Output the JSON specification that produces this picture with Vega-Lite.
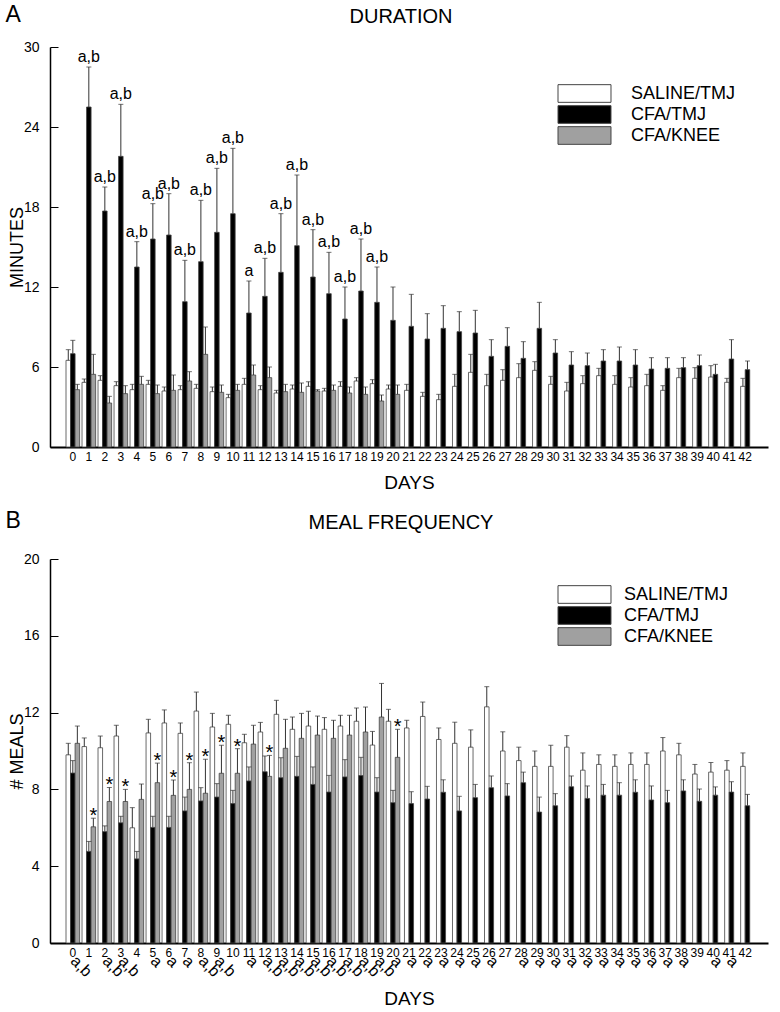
{
"$schema": "https://vega.github.io/schema/vega-lite/v6.json",
"padding": {"left": 5, "top": 4, "right": 4, "bottom": 2},
"background": "white",
"config": {
  "font": "Liberation Sans",
  "view": {"stroke": null},
  "axis": {"domainColor": "#000", "labelColor": "#000", "titleColor": "#000", "titleFontWeight": "normal", "grid": false, "tickColor": "#000", "labelFont": "Liberation Sans", "titleFont": "Liberation Sans"},
  "title": {"fontWeight": "normal", "font": "Liberation Sans", "color": "#000"},
  "legend": {"labelFont": "Liberation Sans", "labelColor": "#000"}
},
"datasets": {
"A1": [
{"day":0,"g":"SALINE/TMJ","m":6.5,"hi":7.3},{"day":0,"g":"CFA/TMJ","m":7.0,"hi":8.0},{"day":0,"g":"CFA/KNEE","m":4.3,"hi":4.7},
{"day":1,"g":"SALINE/TMJ","m":4.85,"hi":5.1},{"day":1,"g":"CFA/TMJ","m":25.5,"hi":28.5,"note":"a,b"},{"day":1,"g":"CFA/KNEE","m":5.45,"hi":6.95},
{"day":2,"g":"SALINE/TMJ","m":5.0,"hi":5.35},{"day":2,"g":"CFA/TMJ","m":17.7,"hi":19.5,"note":"a,b"},{"day":2,"g":"CFA/KNEE","m":3.3,"hi":3.8},
{"day":3,"g":"SALINE/TMJ","m":4.6,"hi":4.9},{"day":3,"g":"CFA/TMJ","m":21.8,"hi":25.7,"note":"a,b"},{"day":3,"g":"CFA/KNEE","m":4.0,"hi":4.6},
{"day":4,"g":"SALINE/TMJ","m":4.3,"hi":4.7},{"day":4,"g":"CFA/TMJ","m":13.5,"hi":15.4,"note":"a,b"},{"day":4,"g":"CFA/KNEE","m":4.7,"hi":5.3},
{"day":5,"g":"SALINE/TMJ","m":4.7,"hi":5.0},{"day":5,"g":"CFA/TMJ","m":15.6,"hi":18.25,"note":"a,b"},{"day":5,"g":"CFA/KNEE","m":4.0,"hi":4.65},
{"day":6,"g":"SALINE/TMJ","m":4.2,"hi":4.5},{"day":6,"g":"CFA/TMJ","m":15.9,"hi":19.0,"note":"a,b"},{"day":6,"g":"CFA/KNEE","m":4.25,"hi":5.4},
{"day":7,"g":"SALINE/TMJ","m":4.3,"hi":4.6},{"day":7,"g":"CFA/TMJ","m":10.9,"hi":14.0,"note":"a,b"},{"day":7,"g":"CFA/KNEE","m":4.95,"hi":5.65},
{"day":8,"g":"SALINE/TMJ","m":4.4,"hi":4.7},{"day":8,"g":"CFA/TMJ","m":13.9,"hi":18.5,"note":"a,b"},{"day":8,"g":"CFA/KNEE","m":6.95,"hi":9.0},
{"day":9,"g":"SALINE/TMJ","m":4.15,"hi":4.5},{"day":9,"g":"CFA/TMJ","m":16.1,"hi":20.9,"note":"a,b"},{"day":9,"g":"CFA/KNEE","m":4.1,"hi":4.65},
{"day":10,"g":"SALINE/TMJ","m":3.7,"hi":3.95},{"day":10,"g":"CFA/TMJ","m":17.5,"hi":22.4,"note":"a,b"},{"day":10,"g":"CFA/KNEE","m":4.25,"hi":4.7},
{"day":11,"g":"SALINE/TMJ","m":4.7,"hi":5.15},{"day":11,"g":"CFA/TMJ","m":10.05,"hi":12.45,"note":"a"},{"day":11,"g":"CFA/KNEE","m":5.4,"hi":6.15},
{"day":12,"g":"SALINE/TMJ","m":4.3,"hi":4.6},{"day":12,"g":"CFA/TMJ","m":11.3,"hi":14.15,"note":"a,b"},{"day":12,"g":"CFA/KNEE","m":5.2,"hi":6.0},
{"day":13,"g":"SALINE/TMJ","m":4.05,"hi":4.25},{"day":13,"g":"CFA/TMJ","m":13.1,"hi":17.5,"note":"a,b"},{"day":13,"g":"CFA/KNEE","m":4.15,"hi":4.7},
{"day":14,"g":"SALINE/TMJ","m":4.35,"hi":4.65},{"day":14,"g":"CFA/TMJ","m":15.1,"hi":20.4,"note":"a,b"},{"day":14,"g":"CFA/KNEE","m":4.1,"hi":4.8},
{"day":15,"g":"SALINE/TMJ","m":4.55,"hi":4.9},{"day":15,"g":"CFA/TMJ","m":12.75,"hi":16.3,"note":"a,b"},{"day":15,"g":"CFA/KNEE","m":4.2,"hi":4.3},
{"day":16,"g":"SALINE/TMJ","m":4.2,"hi":4.4},{"day":16,"g":"CFA/TMJ","m":11.5,"hi":14.6,"note":"a,b"},{"day":16,"g":"CFA/KNEE","m":4.25,"hi":4.65},
{"day":17,"g":"SALINE/TMJ","m":4.55,"hi":4.9},{"day":17,"g":"CFA/TMJ","m":9.6,"hi":12.0,"note":"a,b"},{"day":17,"g":"CFA/KNEE","m":4.05,"hi":4.5},
{"day":18,"g":"SALINE/TMJ","m":4.95,"hi":5.2},{"day":18,"g":"CFA/TMJ","m":11.7,"hi":15.6,"note":"a,b"},{"day":18,"g":"CFA/KNEE","m":3.95,"hi":4.5},
{"day":19,"g":"SALINE/TMJ","m":4.75,"hi":5.05},{"day":19,"g":"CFA/TMJ","m":10.85,"hi":13.5,"note":"a,b"},{"day":19,"g":"CFA/KNEE","m":3.45,"hi":3.9},
{"day":20,"g":"SALINE/TMJ","m":4.35,"hi":4.65},{"day":20,"g":"CFA/TMJ","m":9.5,"hi":12.0},{"day":20,"g":"CFA/KNEE","m":3.95,"hi":4.65}
],
"A2": [
{"day":21,"g":"SALINE/TMJ","m":4.25,"hi":4.7},{"day":21,"g":"CFA/TMJ","m":9.05,"hi":11.45},
{"day":22,"g":"SALINE/TMJ","m":3.8,"hi":4.1},{"day":22,"g":"CFA/TMJ","m":8.1,"hi":10.0},
{"day":23,"g":"SALINE/TMJ","m":3.55,"hi":3.95},{"day":23,"g":"CFA/TMJ","m":8.9,"hi":10.6},
{"day":24,"g":"SALINE/TMJ","m":4.55,"hi":5.45},{"day":24,"g":"CFA/TMJ","m":8.65,"hi":10.15},
{"day":25,"g":"SALINE/TMJ","m":5.6,"hi":6.95},{"day":25,"g":"CFA/TMJ","m":8.55,"hi":10.25},
{"day":26,"g":"SALINE/TMJ","m":4.6,"hi":5.45},{"day":26,"g":"CFA/TMJ","m":6.8,"hi":8.05},
{"day":27,"g":"SALINE/TMJ","m":5.0,"hi":5.8},{"day":27,"g":"CFA/TMJ","m":7.55,"hi":8.95},
{"day":28,"g":"SALINE/TMJ","m":5.2,"hi":6.25},{"day":28,"g":"CFA/TMJ","m":6.65,"hi":7.9},
{"day":29,"g":"SALINE/TMJ","m":5.75,"hi":6.4},{"day":29,"g":"CFA/TMJ","m":8.9,"hi":10.85},
{"day":30,"g":"SALINE/TMJ","m":4.7,"hi":5.3},{"day":30,"g":"CFA/TMJ","m":7.05,"hi":8.05},
{"day":31,"g":"SALINE/TMJ","m":4.2,"hi":4.85},{"day":31,"g":"CFA/TMJ","m":6.15,"hi":7.15},
{"day":32,"g":"SALINE/TMJ","m":4.75,"hi":5.35},{"day":32,"g":"CFA/TMJ","m":6.1,"hi":7.05},
{"day":33,"g":"SALINE/TMJ","m":5.35,"hi":5.9},{"day":33,"g":"CFA/TMJ","m":6.45,"hi":7.3},
{"day":34,"g":"SALINE/TMJ","m":4.7,"hi":5.35},{"day":34,"g":"CFA/TMJ","m":6.45,"hi":7.5},
{"day":35,"g":"SALINE/TMJ","m":4.5,"hi":5.2},{"day":35,"g":"CFA/TMJ","m":6.15,"hi":7.3},
{"day":36,"g":"SALINE/TMJ","m":4.6,"hi":5.45},{"day":36,"g":"CFA/TMJ","m":5.85,"hi":6.7},
{"day":37,"g":"SALINE/TMJ","m":4.25,"hi":4.6},{"day":37,"g":"CFA/TMJ","m":5.9,"hi":6.7},
{"day":38,"g":"SALINE/TMJ","m":5.2,"hi":5.9},{"day":38,"g":"CFA/TMJ","m":5.95,"hi":6.7},
{"day":39,"g":"SALINE/TMJ","m":5.15,"hi":5.95},{"day":39,"g":"CFA/TMJ","m":6.1,"hi":6.9},
{"day":40,"g":"SALINE/TMJ","m":5.25,"hi":6.1},{"day":40,"g":"CFA/TMJ","m":5.45,"hi":6.2},
{"day":41,"g":"SALINE/TMJ","m":4.85,"hi":5.15},{"day":41,"g":"CFA/TMJ","m":6.6,"hi":8.05},
{"day":42,"g":"SALINE/TMJ","m":4.55,"hi":5.15},{"day":42,"g":"CFA/TMJ","m":5.8,"hi":6.45}
],
"B1": [
{"day":0,"g":"SALINE/TMJ","m":9.8,"hi":10.4},{"day":0,"g":"CFA/TMJ","m":8.85,"hi":9.5},{"day":0,"g":"CFA/KNEE","m":10.4,"hi":11.3},
{"day":1,"g":"SALINE/TMJ","m":10.23,"hi":10.68},{"day":1,"g":"CFA/TMJ","m":4.77,"hi":5.29},{"day":1,"g":"CFA/KNEE","m":6.05,"hi":6.5,"note":"*"},
{"day":2,"g":"SALINE/TMJ","m":10.17,"hi":10.78},{"day":2,"g":"CFA/TMJ","m":5.8,"hi":6.1},{"day":2,"g":"CFA/KNEE","m":7.37,"hi":8.1,"note":"*"},
{"day":3,"g":"SALINE/TMJ","m":10.78,"hi":11.34},{"day":3,"g":"CFA/TMJ","m":6.26,"hi":6.6},{"day":3,"g":"CFA/KNEE","m":7.37,"hi":8.0,"note":"*"},
{"day":4,"g":"SALINE/TMJ","m":6.0,"hi":7.05},{"day":4,"g":"CFA/TMJ","m":4.38,"hi":4.77},{"day":4,"g":"CFA/KNEE","m":7.48,"hi":8.28},
{"day":5,"g":"SALINE/TMJ","m":10.94,"hi":11.65},{"day":5,"g":"CFA/TMJ","m":6.02,"hi":6.6},{"day":5,"g":"CFA/KNEE","m":8.35,"hi":9.37,"note":"*"},
{"day":6,"g":"SALINE/TMJ","m":11.46,"hi":12.14},{"day":6,"g":"CFA/TMJ","m":6.02,"hi":6.6},{"day":6,"g":"CFA/KNEE","m":7.69,"hi":8.49,"note":"*"},
{"day":7,"g":"SALINE/TMJ","m":10.92,"hi":11.46},{"day":7,"g":"CFA/TMJ","m":6.88,"hi":7.6},{"day":7,"g":"CFA/KNEE","m":8.0,"hi":9.39,"note":"*"},
{"day":8,"g":"SALINE/TMJ","m":12.08,"hi":13.07},{"day":8,"g":"CFA/TMJ","m":7.4,"hi":8.09},{"day":8,"g":"CFA/KNEE","m":7.8,"hi":9.57,"note":"*"},
{"day":9,"g":"SALINE/TMJ","m":11.25,"hi":11.96},{"day":9,"g":"CFA/TMJ","m":7.6,"hi":8.3},{"day":9,"g":"CFA/KNEE","m":8.84,"hi":10.3,"note":"*"},
{"day":10,"g":"SALINE/TMJ","m":11.39,"hi":11.86},{"day":10,"g":"CFA/TMJ","m":7.26,"hi":7.95},{"day":10,"g":"CFA/KNEE","m":8.84,"hi":10.12,"note":"*"},
{"day":11,"g":"SALINE/TMJ","m":10.43,"hi":10.87},{"day":11,"g":"CFA/TMJ","m":8.44,"hi":9.17},{"day":11,"g":"CFA/KNEE","m":10.36,"hi":11.34},
{"day":12,"g":"SALINE/TMJ","m":10.99,"hi":11.49},{"day":12,"g":"CFA/TMJ","m":8.92,"hi":9.74},{"day":12,"g":"CFA/KNEE","m":8.68,"hi":9.77,"note":"*"},
{"day":13,"g":"SALINE/TMJ","m":11.91,"hi":12.64},{"day":13,"g":"CFA/TMJ","m":8.61,"hi":9.65},{"day":13,"g":"CFA/KNEE","m":10.14,"hi":11.65},
{"day":14,"g":"SALINE/TMJ","m":11.13,"hi":11.77},{"day":14,"g":"CFA/TMJ","m":8.68,"hi":9.72},{"day":14,"g":"CFA/KNEE","m":10.66,"hi":11.96},
{"day":15,"g":"SALINE/TMJ","m":11.3,"hi":12.07},{"day":15,"g":"CFA/TMJ","m":8.26,"hi":9.17},{"day":15,"g":"CFA/KNEE","m":10.83,"hi":11.82},
{"day":16,"g":"SALINE/TMJ","m":11.13,"hi":11.74},{"day":16,"g":"CFA/TMJ","m":7.86,"hi":8.73},{"day":16,"g":"CFA/KNEE","m":10.66,"hi":11.6},
{"day":17,"g":"SALINE/TMJ","m":11.3,"hi":11.86},{"day":17,"g":"CFA/TMJ","m":8.65,"hi":9.55},{"day":17,"g":"CFA/KNEE","m":10.83,"hi":11.86},
{"day":18,"g":"SALINE/TMJ","m":11.55,"hi":12.24},{"day":18,"g":"CFA/TMJ","m":8.72,"hi":9.67},{"day":18,"g":"CFA/KNEE","m":10.99,"hi":12.29},
{"day":19,"g":"SALINE/TMJ","m":10.31,"hi":11.02},{"day":19,"g":"CFA/TMJ","m":7.86,"hi":8.61},{"day":19,"g":"CFA/KNEE","m":11.77,"hi":13.52},
{"day":20,"g":"SALINE/TMJ","m":11.55,"hi":12.17},{"day":20,"g":"CFA/TMJ","m":7.31,"hi":7.95},{"day":20,"g":"CFA/KNEE","m":9.67,"hi":11.13,"note":"*"}
],
"B2": [
{"day":21,"g":"SALINE/TMJ","m":11.2,"hi":11.6},{"day":21,"g":"CFA/TMJ","m":7.26,"hi":7.88},
{"day":22,"g":"SALINE/TMJ","m":11.8,"hi":12.55},{"day":22,"g":"CFA/TMJ","m":7.5,"hi":8.16},
{"day":23,"g":"SALINE/TMJ","m":10.6,"hi":11.2},{"day":23,"g":"CFA/TMJ","m":7.85,"hi":8.5},
{"day":24,"g":"SALINE/TMJ","m":10.4,"hi":11.5},{"day":24,"g":"CFA/TMJ","m":6.88,"hi":7.64},
{"day":25,"g":"SALINE/TMJ","m":10.2,"hi":11.1},{"day":25,"g":"CFA/TMJ","m":7.57,"hi":8.26},
{"day":26,"g":"SALINE/TMJ","m":12.3,"hi":13.35},{"day":26,"g":"CFA/TMJ","m":8.09,"hi":8.7},
{"day":27,"g":"SALINE/TMJ","m":10.0,"hi":11.0},{"day":27,"g":"CFA/TMJ","m":7.66,"hi":8.3},
{"day":28,"g":"SALINE/TMJ","m":9.5,"hi":10.2},{"day":28,"g":"CFA/TMJ","m":8.35,"hi":8.9},
{"day":29,"g":"SALINE/TMJ","m":9.2,"hi":10.0},{"day":29,"g":"CFA/TMJ","m":6.82,"hi":7.6},
{"day":30,"g":"SALINE/TMJ","m":9.2,"hi":10.3},{"day":30,"g":"CFA/TMJ","m":7.15,"hi":7.78},
{"day":31,"g":"SALINE/TMJ","m":10.2,"hi":10.8},{"day":31,"g":"CFA/TMJ","m":8.14,"hi":8.7},
{"day":32,"g":"SALINE/TMJ","m":9.0,"hi":9.9},{"day":32,"g":"CFA/TMJ","m":7.53,"hi":8.18},
{"day":33,"g":"SALINE/TMJ","m":9.3,"hi":9.8},{"day":33,"g":"CFA/TMJ","m":7.7,"hi":8.26},
{"day":34,"g":"SALINE/TMJ","m":9.2,"hi":9.8},{"day":34,"g":"CFA/TMJ","m":7.7,"hi":8.35},
{"day":35,"g":"SALINE/TMJ","m":9.3,"hi":9.9},{"day":35,"g":"CFA/TMJ","m":7.85,"hi":8.5},
{"day":36,"g":"SALINE/TMJ","m":9.3,"hi":9.9},{"day":36,"g":"CFA/TMJ","m":7.45,"hi":8.18},
{"day":37,"g":"SALINE/TMJ","m":10.0,"hi":10.7},{"day":37,"g":"CFA/TMJ","m":7.31,"hi":7.95},
{"day":38,"g":"SALINE/TMJ","m":9.8,"hi":10.4},{"day":38,"g":"CFA/TMJ","m":7.92,"hi":8.5},
{"day":39,"g":"SALINE/TMJ","m":8.8,"hi":9.3},{"day":39,"g":"CFA/TMJ","m":7.38,"hi":8.02},
{"day":40,"g":"SALINE/TMJ","m":8.9,"hi":9.4},{"day":40,"g":"CFA/TMJ","m":7.7,"hi":8.13},
{"day":41,"g":"SALINE/TMJ","m":9.0,"hi":9.5},{"day":41,"g":"CFA/TMJ","m":7.86,"hi":8.4},
{"day":42,"g":"SALINE/TMJ","m":9.2,"hi":9.9},{"day":42,"g":"CFA/TMJ","m":7.15,"hi":7.74}
],
"SB": [
{"day":1,"lab":"a,b"},{"day":3,"lab":"a,b"},{"day":4,"lab":"a,b"},{"day":6,"lab":"a"},{"day":7,"lab":"a"},{"day":8,"lab":"a"},
{"day":9,"lab":"a,b"},{"day":10,"lab":"a,b"},{"day":12,"lab":"a"},
{"day":13,"lab":"a,b"},{"day":14,"lab":"a,b"},{"day":15,"lab":"a,b"},{"day":16,"lab":"a,b"},{"day":17,"lab":"a,b"},{"day":18,"lab":"a,b"},{"day":19,"lab":"a,b"},{"day":20,"lab":"a,b"},
{"day":21,"lab":"a"},{"day":22,"lab":"a"},{"day":23,"lab":"a"},{"day":24,"lab":"a"},{"day":25,"lab":"a"},{"day":26,"lab":"a"},{"day":27,"lab":"a"},
{"day":29,"lab":"a"},{"day":30,"lab":"a"},{"day":31,"lab":"a"},{"day":32,"lab":"a"},{"day":33,"lab":"a"},{"day":34,"lab":"a"},{"day":35,"lab":"a"},{"day":36,"lab":"a"},{"day":37,"lab":"a"},{"day":38,"lab":"a"},{"day":39,"lab":"a"},
{"day":41,"lab":"a"},{"day":42,"lab":"a"}
]
},
"vconcat": [
{
 "title": {"text": "A", "anchor": "start", "frame": "bounds", "fontSize": 23, "offset": 0, "dy": 20, "dx": -3},
 "resolve": {"scale": {"xOffset": "independent"}},
 "vconcat": [
 {
  "width": 718, "height": 400,
  "title": {"text": "DURATION", "fontSize": 20, "frame": "group", "dx": -8, "offset": 13},
  "resolve": {"scale": {"xOffset": "independent"}},
  "layer": [
   {
    "data": {"name": "A1"},
    "encoding": {
     "x": {"field": "day", "type": "ordinal", "scale": {"domain": [0,1,2,3,4,5,6,7,8,9,10,11,12,13,14,15,16,17,18,19,20,21,22,23,24,25,26,27,28,29,30,31,32,33,34,35,36,37,38,39,40,41,42], "paddingInner": 0.15, "paddingOuter": 1},
           "axis": {"title": "DAYS", "labelAngle": 0, "ticks": false, "labelPadding": 4, "labelFontSize": 12, "titleFontSize": 19, "titlePadding": 11, "domainWidth": 2}},
     "xOffset": {"field": "g", "type": "nominal", "scale": {"domain": ["SALINE/TMJ","CFA/TMJ","CFA/KNEE"], "paddingInner": 0, "paddingOuter": 0}},
     "y": {"field": "m", "type": "quantitative", "scale": {"domain": [0,30], "nice": false},
           "axis": {"values": [0,6,12,18,24,30], "title": "MINUTES", "titleFontSize": 18, "labelFontSize": 14, "tickSize": -8, "labelPadding": 19, "titlePadding": -3, "domainWidth": 1.5}}
    },
    "layer": [
     {"mark": {"type": "bar", "stroke": "#444", "strokeWidth": 0.8},
      "encoding": {"color": {"field": "g", "type": "nominal", "scale": {"domain": ["SALINE/TMJ","CFA/TMJ","CFA/KNEE"], "range": ["#ffffff","#000000","#a0a0a0"]},
        "legend": {"orient": "none", "legendX": 525, "legendY": 37, "title": null, "symbolType": "M-3,-1H3V1H-3Z", "symbolSize": 312, "rowPadding": -10, "labelFontSize": 18, "labelOffset": 37, "symbolStrokeColor": "#444", "symbolStrokeWidth": 1, "padding": 0}}}},
     {"mark": {"type": "rule", "color": "#333", "strokeWidth": 1}, "encoding": {"y2": {"field": "hi"}}},
     {"mark": {"type": "tick", "color": "#333", "thickness": 1, "size": 5}, "encoding": {"y": {"field": "hi", "type": "quantitative"}}},
     {"transform": [{"filter": "datum.note"}], "mark": {"type": "text", "fontSize": 16, "baseline": "alphabetic", "dy": -5, "color": "#000"},
      "encoding": {"y": {"field": "hi", "type": "quantitative"}, "text": {"field": "note"}}}
    ]
   },
   {
    "data": {"name": "A2"},
    "encoding": {
     "x": {"field": "day", "type": "ordinal", "scale": {"domain": [0,1,2,3,4,5,6,7,8,9,10,11,12,13,14,15,16,17,18,19,20,21,22,23,24,25,26,27,28,29,30,31,32,33,34,35,36,37,38,39,40,41,42], "paddingInner": 0.15, "paddingOuter": 1},
           "axis": {"title": "DAYS", "labelAngle": 0, "ticks": false, "labelPadding": 4, "labelFontSize": 12, "titleFontSize": 19, "titlePadding": 11, "domainWidth": 2}},
     "xOffset": {"field": "g", "type": "nominal", "scale": {"domain": ["SALINE/TMJ","CFA/TMJ"], "paddingInner": 0, "paddingOuter": 0.5}},
     "y": {"field": "m", "type": "quantitative", "scale": {"domain": [0,30], "nice": false},
           "axis": {"values": [0,6,12,18,24,30], "title": "MINUTES", "titleFontSize": 18, "labelFontSize": 14, "tickSize": -8, "labelPadding": 19, "titlePadding": -3, "domainWidth": 1.5}}
    },
    "layer": [
     {"mark": {"type": "bar", "stroke": "#444", "strokeWidth": 0.8},
      "encoding": {"color": {"field": "g", "type": "nominal", "scale": {"domain": ["SALINE/TMJ","CFA/TMJ","CFA/KNEE"], "range": ["#ffffff","#000000","#a0a0a0"]},
        "legend": {"orient": "none", "legendX": 525, "legendY": 37, "title": null, "symbolType": "M-3,-1H3V1H-3Z", "symbolSize": 312, "rowPadding": -10, "labelFontSize": 18, "labelOffset": 37, "symbolStrokeColor": "#444", "symbolStrokeWidth": 1, "padding": 0}}}},
     {"mark": {"type": "rule", "color": "#333", "strokeWidth": 1}, "encoding": {"y2": {"field": "hi"}}},
     {"mark": {"type": "tick", "color": "#333", "thickness": 1, "size": 5}, "encoding": {"y": {"field": "hi", "type": "quantitative"}}}
    ]
   }
  ]
 }
 ]
},
{
 "title": {"text": "B", "anchor": "start", "frame": "bounds", "fontSize": 23, "offset": 0, "dy": 20, "dx": -3},
 "resolve": {"scale": {"xOffset": "independent"}},
 "vconcat": [
 {
  "width": 718, "height": 384,
  "title": {"text": "MEAL FREQUENCY", "fontSize": 20, "frame": "group", "dx": -8, "offset": 19},
  "resolve": {"scale": {"xOffset": "independent"}},
  "layer": [
   {
    "data": {"name": "B1"},
    "encoding": {
     "x": {"field": "day", "type": "ordinal", "scale": {"domain": [0,1,2,3,4,5,6,7,8,9,10,11,12,13,14,15,16,17,18,19,20,21,22,23,24,25,26,27,28,29,30,31,32,33,34,35,36,37,38,39,40,41,42], "paddingInner": 0.15, "paddingOuter": 1},
           "axis": {"title": "DAYS", "labelAngle": 0, "ticks": false, "labelPadding": 4, "labelFontSize": 12, "titleFontSize": 19, "titlePadding": 31, "domainWidth": 2}},
     "xOffset": {"field": "g", "type": "nominal", "scale": {"domain": ["SALINE/TMJ","CFA/TMJ","CFA/KNEE"], "paddingInner": 0, "paddingOuter": 0}},
     "y": {"field": "m", "type": "quantitative", "scale": {"domain": [0,20], "nice": false},
           "axis": {"values": [0,4,8,12,16,20], "title": "# MEALS", "titleFontSize": 18, "labelFontSize": 14, "tickSize": -8, "labelPadding": 19, "titlePadding": -3, "domainWidth": 1.5}}
    },
    "layer": [
     {"mark": {"type": "bar", "stroke": "#444", "strokeWidth": 0.8},
      "encoding": {"color": {"field": "g", "type": "nominal", "scale": {"domain": ["SALINE/TMJ","CFA/TMJ","CFA/KNEE"], "range": ["#ffffff","#000000","#a0a0a0"]},
        "legend": {"orient": "none", "legendX": 525, "legendY": 26, "title": null, "symbolType": "M-3,-1H3V1H-3Z", "symbolSize": 312, "rowPadding": -10, "labelFontSize": 18, "labelOffset": 30, "symbolStrokeColor": "#444", "symbolStrokeWidth": 1, "padding": 0}}}},
     {"mark": {"type": "rule", "color": "#333", "strokeWidth": 1}, "encoding": {"y2": {"field": "hi"}}},
     {"mark": {"type": "tick", "color": "#333", "thickness": 1, "size": 5}, "encoding": {"y": {"field": "hi", "type": "quantitative"}}},
     {"transform": [{"filter": "datum.note"}], "mark": {"type": "text", "fontSize": 20, "baseline": "alphabetic", "dy": 4, "color": "#000"},
      "encoding": {"y": {"field": "hi", "type": "quantitative"}, "text": {"field": "note"}}}
    ]
   },
   {
    "data": {"name": "B2"},
    "encoding": {
     "x": {"field": "day", "type": "ordinal", "scale": {"domain": [0,1,2,3,4,5,6,7,8,9,10,11,12,13,14,15,16,17,18,19,20,21,22,23,24,25,26,27,28,29,30,31,32,33,34,35,36,37,38,39,40,41,42], "paddingInner": 0.15, "paddingOuter": 1},
           "axis": {"title": "DAYS", "labelAngle": 0, "ticks": false, "labelPadding": 4, "labelFontSize": 12, "titleFontSize": 19, "titlePadding": 31, "domainWidth": 2}},
     "xOffset": {"field": "g", "type": "nominal", "scale": {"domain": ["SALINE/TMJ","CFA/TMJ"], "paddingInner": 0, "paddingOuter": 0.5}},
     "y": {"field": "m", "type": "quantitative", "scale": {"domain": [0,20], "nice": false},
           "axis": {"values": [0,4,8,12,16,20], "title": "# MEALS", "titleFontSize": 18, "labelFontSize": 14, "tickSize": -8, "labelPadding": 19, "titlePadding": -3, "domainWidth": 1.5}}
    },
    "layer": [
     {"mark": {"type": "bar", "stroke": "#444", "strokeWidth": 0.8},
      "encoding": {"color": {"field": "g", "type": "nominal", "scale": {"domain": ["SALINE/TMJ","CFA/TMJ","CFA/KNEE"], "range": ["#ffffff","#000000","#a0a0a0"]},
        "legend": {"orient": "none", "legendX": 525, "legendY": 26, "title": null, "symbolType": "M-3,-1H3V1H-3Z", "symbolSize": 312, "rowPadding": -10, "labelFontSize": 18, "labelOffset": 30, "symbolStrokeColor": "#444", "symbolStrokeWidth": 1, "padding": 0}}}},
     {"mark": {"type": "rule", "color": "#333", "strokeWidth": 1}, "encoding": {"y2": {"field": "hi"}}},
     {"mark": {"type": "tick", "color": "#333", "thickness": 1, "size": 5}, "encoding": {"y": {"field": "hi", "type": "quantitative"}}}
    ]
   },
   {
    "data": {"name": "SB"},
    "mark": {"type": "text", "fontSize": 16, "angle": 45, "align": "left", "baseline": "top", "dy": 14, "dx": 0, "color": "#000"},
    "encoding": {
     "x": {"field": "day", "type": "ordinal"},
     "y": {"datum": 0, "type": "quantitative"},
     "text": {"field": "lab"}
    }
   }
  ]
 }
 ]
}
],
"spacing": 18,
"resolve": {"scale": {"x": "independent", "y": "independent", "color": "independent", "xOffset": "independent"}, "legend": {"color": "independent"}}
}
